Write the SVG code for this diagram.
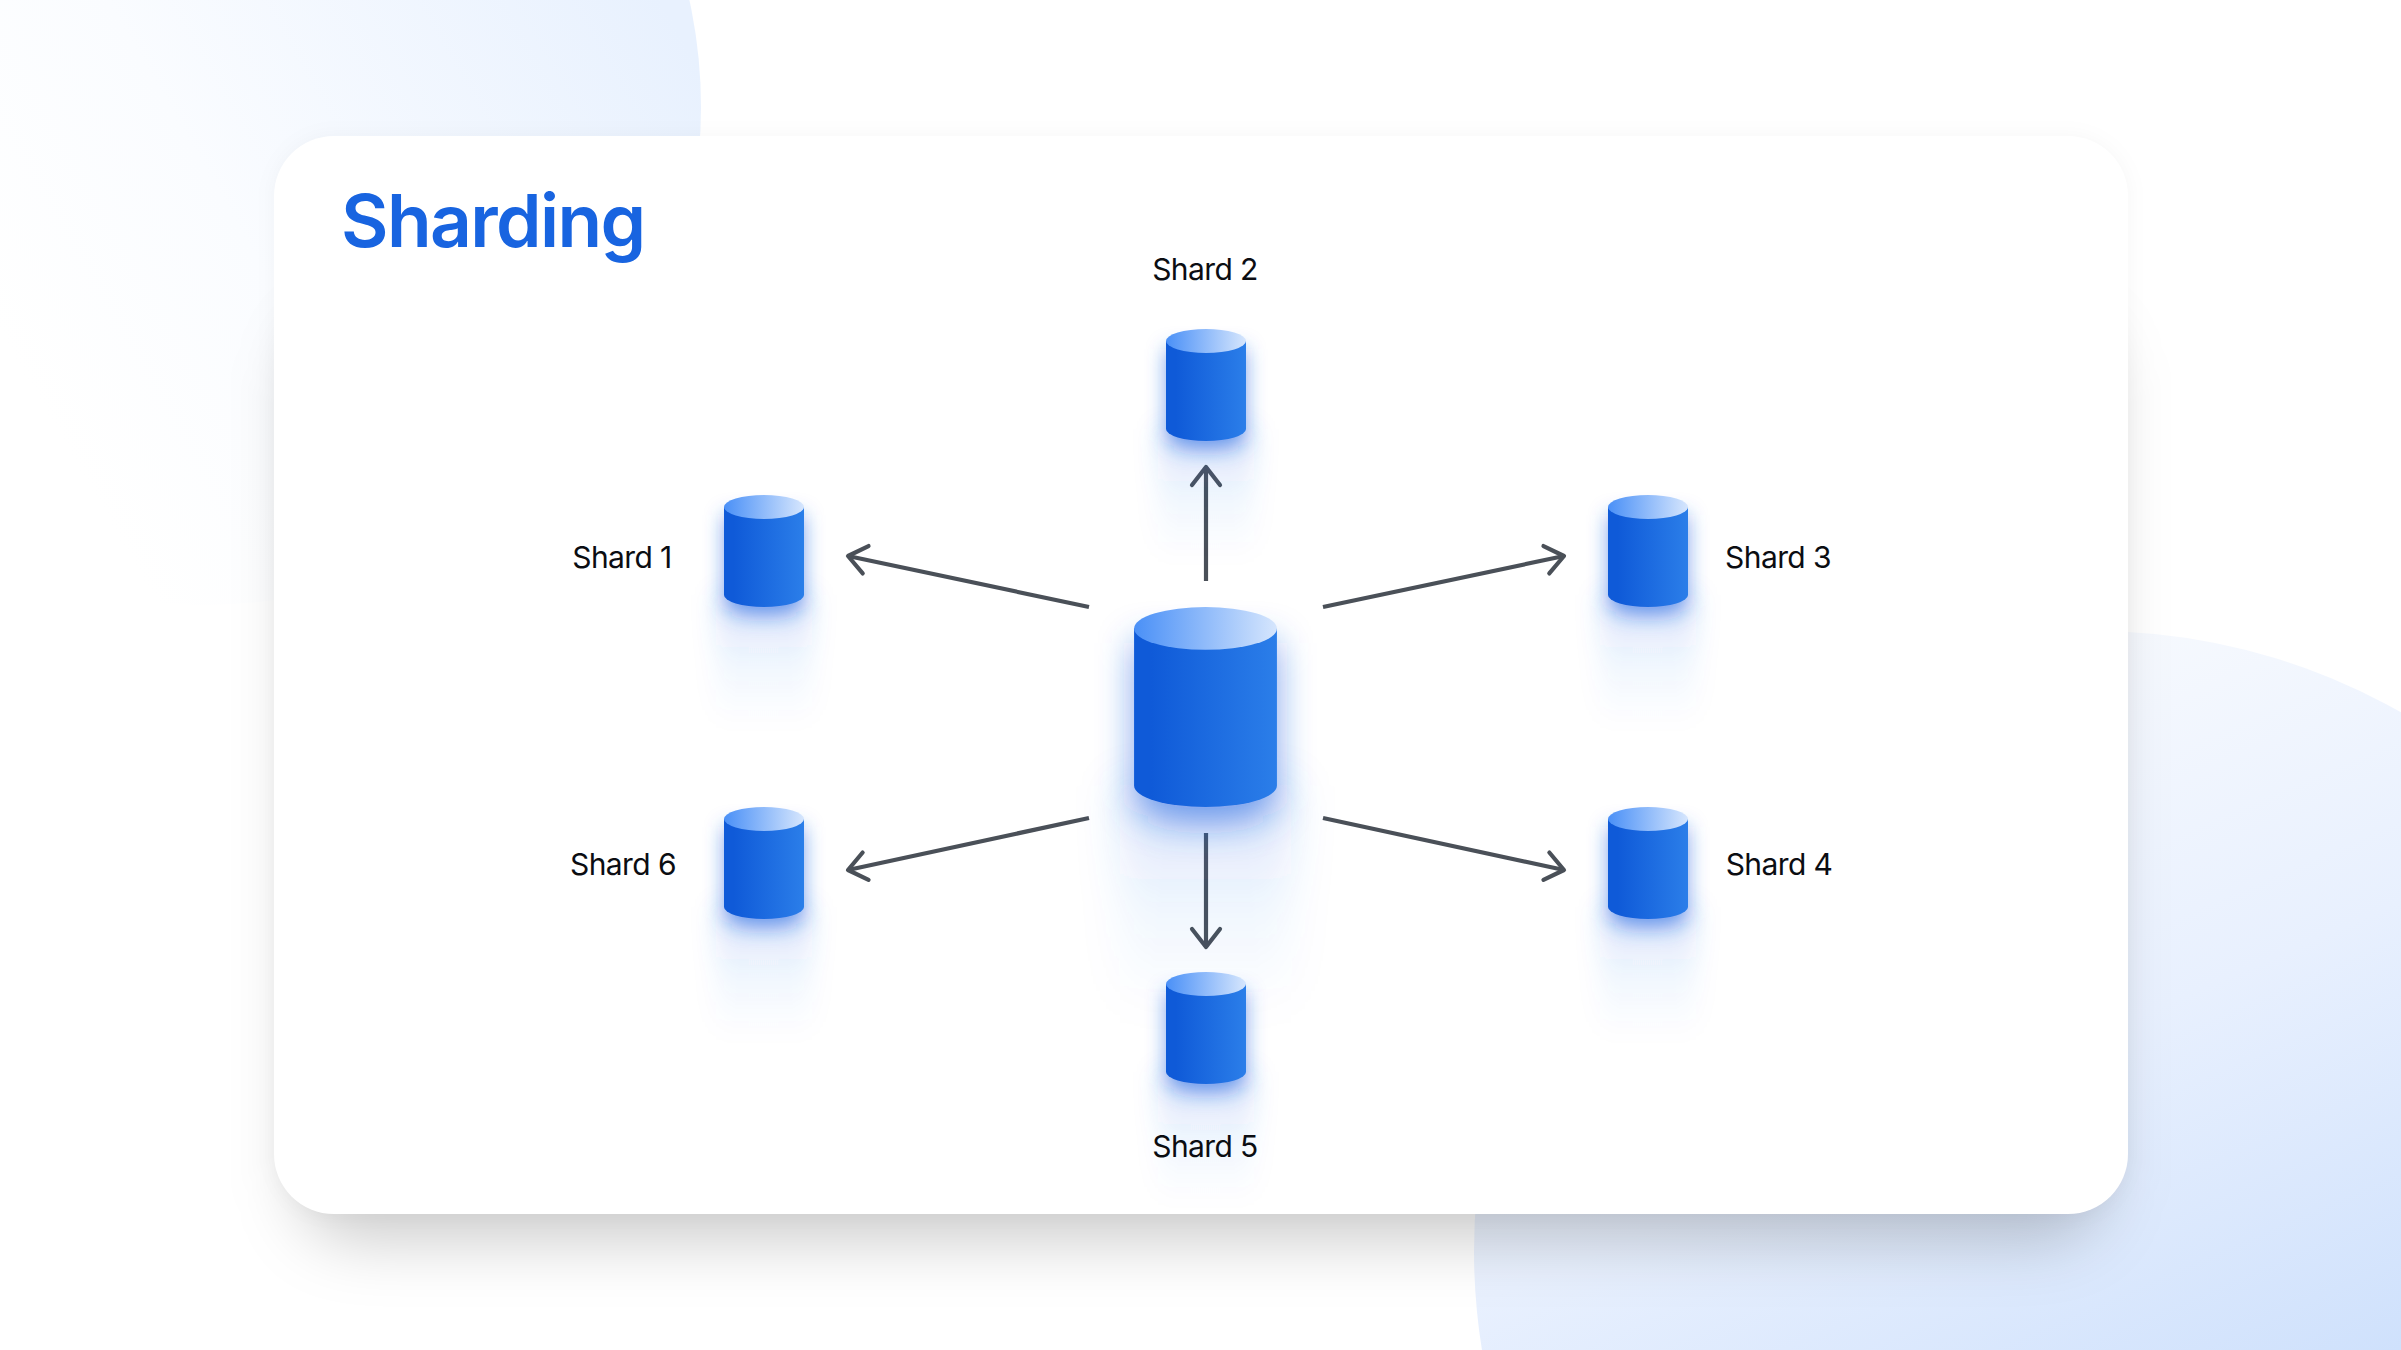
<svg xmlns="http://www.w3.org/2000/svg" width="2401" height="1350" viewBox="0 0 2401 1350">
  <defs>
    <linearGradient id="blobTL" gradientUnits="userSpaceOnUse" x1="50" y1="420" x2="690" y2="50">
      <stop offset="0" stop-color="#ffffff"/>
      <stop offset="0.35" stop-color="#fafcff"/>
      <stop offset="1" stop-color="#e8f1fe"/>
    </linearGradient>
    <linearGradient id="blobBR" gradientUnits="userSpaceOnUse" x1="2100" y1="650" x2="2404" y2="1349">
      <stop offset="0" stop-color="#f6f9fe"/>
      <stop offset="0.46" stop-color="#e8f0fe"/>
      <stop offset="1" stop-color="#cfe1fc"/>
    </linearGradient>
    <linearGradient id="body" x1="0" x2="1" y1="0" y2="0">
      <stop offset="0.12" stop-color="#0f5ad8"/>
      <stop offset="1" stop-color="#2b7ee9"/>
    </linearGradient>
    <linearGradient id="lid" x1="0" x2="1" y1="0" y2="0">
      <stop offset="0" stop-color="#4a90f7"/>
      <stop offset="1" stop-color="#d6e6fd"/>
    </linearGradient>
    <linearGradient id="trail" x1="0" x2="0" y1="0" y2="1">
      <stop offset="0" stop-color="#2a6fe6" stop-opacity="0.2"/>
      <stop offset="0.5" stop-color="#2a6fe6" stop-opacity="0.06"/>
      <stop offset="1" stop-color="#2a6fe6" stop-opacity="0"/>
    </linearGradient>
    <filter id="cardShadow" x="-20%" y="-20%" width="140%" height="140%">
      <feGaussianBlur stdDeviation="32"/>
    </filter>
    <filter id="cardEdge" x="-5%" y="-5%" width="110%" height="110%">
      <feGaussianBlur stdDeviation="10"/>
    </filter>
    <filter id="halo" x="-50%" y="-30%" width="200%" height="160%">
      <feGaussianBlur stdDeviation="10"/>
    </filter>
    <filter id="haze" x="-60%" y="-40%" width="220%" height="180%">
      <feGaussianBlur stdDeviation="12"/>
    </filter>
    <symbol id="cyl" viewBox="0 0 80 112" overflow="visible">
      <rect x="-8" y="100" width="96" height="130" fill="url(#trail)" filter="url(#haze)"/>
      <path d="M1 20V108A39 12 0 0 0 79 108V20Z" fill="#1d5fe0" fill-opacity="0.62" filter="url(#halo)"/>
      <path d="M0 12V100A40 12 0 0 0 80 100V12Z" fill="url(#body)"/>
      <ellipse cx="40" cy="12" rx="40" ry="12" fill="url(#lid)"/>
    </symbol>
    <marker id="head" markerUnits="userSpaceOnUse" markerWidth="40" markerHeight="40" refX="22" refY="20" orient="auto">
      <path d="M4 6L22 20L4 34" fill="none" stroke="#4a5058" stroke-width="4.200" stroke-linecap="round" stroke-linejoin="round"/>
    </marker>
  </defs>
  <style>
    .label { font: 400 30px Inter, "Liberation Sans", sans-serif; letter-spacing: -0.6px; fill: #0b0d12; text-anchor: middle; }
    .title { font: 600 73px Inter, "Liberation Sans", sans-serif; letter-spacing: -1.600px; fill: #1864e0; }
    .link { fill: none; stroke: #4a5058; stroke-width: 4.200; marker-end: url(#head); }
  </style>

  <rect width="2401" height="1350" fill="#ffffff"/>
  <circle cx="203" cy="107" r="498" fill="url(#blobTL)"/>
  <circle cx="2094" cy="1251" r="620" fill="url(#blobBR)"/>

  <g id="card">
    <rect x="274" y="136" width="1854" height="1078" rx="60" fill="#000000" fill-opacity="0.035" filter="url(#cardEdge)"/>
    <rect x="298" y="320" width="1806" height="920" rx="60" fill="#000000" fill-opacity="0.2" filter="url(#cardShadow)"/>
    <rect x="274" y="136" width="1854" height="1078" rx="60" fill="#ffffff"/>
    <text class="title" x="341" y="247">Sharding</text>
  </g>

  <g id="connectors">
    <path class="link" d="M1206 581V467"/>
    <path class="link" d="M1089 607L848 556"/>
    <path class="link" d="M1323 607L1564 556"/>
    <path class="link" d="M1089 818L848 870"/>
    <path class="link" d="M1323 818L1564 870"/>
    <path class="link" d="M1206 833V947"/>
  </g>

  <g id="primary"><use href="#cyl" x="1134" y="607" width="143" height="200"/></g>
  <g id="shard-1"><use href="#cyl" x="724" y="495" width="80" height="112"/><text class="label" x="622" y="568">Shard 1</text></g>
  <g id="shard-2"><use href="#cyl" x="1166" y="329" width="80" height="112"/><text class="label" x="1205" y="280">Shard 2</text></g>
  <g id="shard-3"><use href="#cyl" x="1608" y="495" width="80" height="112"/><text class="label" x="1778" y="568">Shard 3</text></g>
  <g id="shard-4"><use href="#cyl" x="1608" y="807" width="80" height="112"/><text class="label" x="1779" y="875">Shard 4</text></g>
  <g id="shard-5"><use href="#cyl" x="1166" y="972" width="80" height="112"/><text class="label" x="1205" y="1157">Shard 5</text></g>
  <g id="shard-6"><use href="#cyl" x="724" y="807" width="80" height="112"/><text class="label" x="623" y="875">Shard 6</text></g>
</svg>
